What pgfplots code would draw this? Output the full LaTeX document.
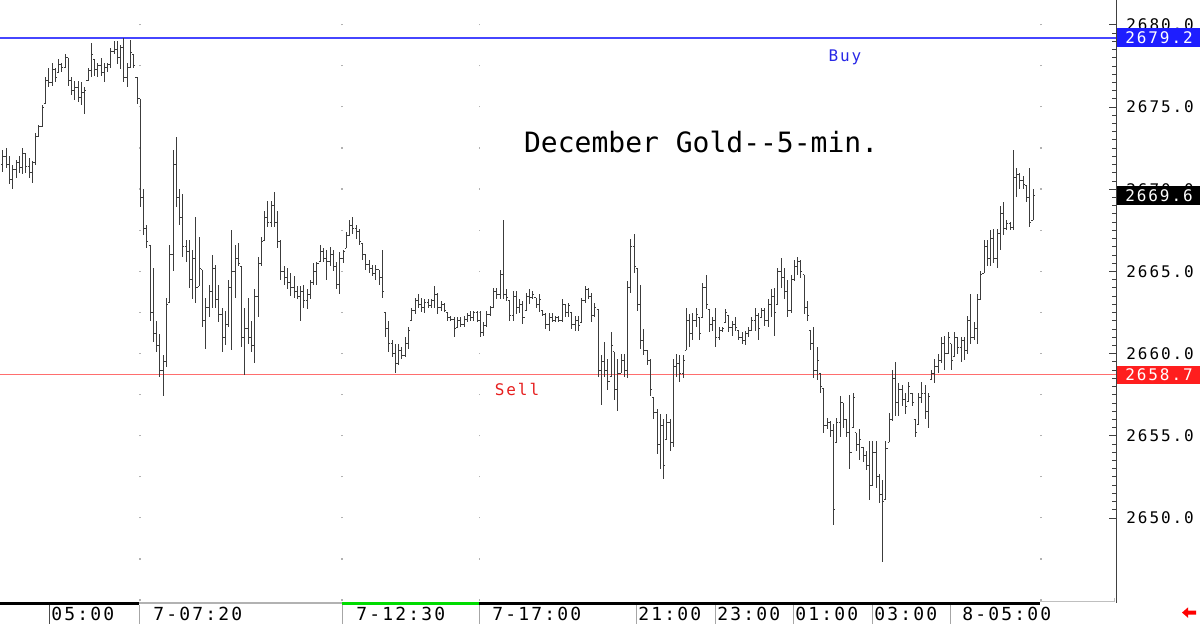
\documentclass[border=0pt]{standalone}
\usepackage{fontspec}
\setmainfont{DejaVu Sans Mono}
\newfontfamily\monofont{DejaVu Sans Mono}
\newfontfamily\tickfont[LetterSpace=12]{DejaVu Sans Mono}
\usepackage{pgfplots}
\pgfplotsset{compat=1.18}
\usepackage{pgfplotstable}

\definecolor{buyblue}{RGB}{70,70,255}
\definecolor{boxblue}{RGB}{30,30,255}
\definecolor{sellred}{RGB}{255,110,110}
\definecolor{boxred}{RGB}{255,30,30}
\definecolor{greenbar}{RGB}{0,220,0}
\definecolor{barcol}{RGB}{60,60,60}

\pgfdeclareplotmark{otick}{\pgfpathmoveto{\pgfpoint{-0.8pt}{0pt}}\pgfpathlineto{\pgfpoint{0pt}{0pt}}\pgfusepathqstroke}
\pgfdeclareplotmark{ctick}{\pgfpathmoveto{\pgfpoint{0pt}{0pt}}\pgfpathlineto{\pgfpoint{0.8pt}{0pt}}\pgfusepathqstroke}

\pgfplotstableread{
o h l c
2671.5 2672.4 2671.05 2672.0
2672.0 2672.5 2671.3 2671.5
2671.5 2672.0 2670.3 2670.6
2670.6 2671.5 2670.0 2671.2
2671.2 2671.8 2670.7 2671.6
2671.6 2672.0 2671.0 2671.3
2671.3 2672.5 2670.9 2672.2
2672.2 2672.2 2671.0 2671.4
2671.4 2671.9 2670.7 2671.0
2671.0 2671.7 2670.4 2671.6
2671.6 2673.4 2671.5 2673.2
2673.2 2673.9 2673.2 2673.8
2673.8 2675.1 2673.8 2675.0
2675.2 2676.8 2675.2 2676.6
2676.6 2677.4 2676.2 2676.5
2676.5 2677.7 2676.3 2677.3
2677.3 2677.4 2676.5 2676.8
2677.1 2677.9 2677.1 2677.6
2677.6 2677.7 2677.1 2677.4
2677.4 2678.2 2677.4 2678.0
2678.0 2678.0 2676.3 2676.6
2676.6 2676.8 2675.7 2676.0
2676.0 2676.6 2675.4 2676.2
2676.2 2676.6 2675.3 2675.6
2675.6 2676.5 2675.1 2675.9
2675.9 2676.2 2674.6 2676.0
2676.6 2677.4 2676.6 2677.2
2677.2 2678.9 2676.8 2678.2
2677.9 2677.9 2676.9 2677.3
2677.3 2677.7 2676.8 2677.5
2677.5 2678.0 2676.9 2677.1
2677.1 2677.7 2676.5 2677.4
2677.4 2677.7 2677.1 2677.6
2677.6 2678.6 2677.4 2678.4
2678.4 2679.0 2678.2 2678.5
2678.5 2679.0 2677.6 2678.0
2678.0 2678.8 2677.3 2678.6
2678.6 2679.2 2676.5 2676.8
2676.8 2677.7 2676.2 2677.4
2677.4 2679.1 2677.4 2678.3
2678.2 2678.2 2677.4 2677.5
2676.8 2676.8 2675.2 2675.5
2675.5 2675.5 2668.9 2669.5
2669.5 2670.0 2667.2 2667.6
2667.6 2667.8 2666.4 2666.8
2666.6 2666.6 2662.0 2662.5
2662.5 2665.2 2660.7 2661.2
2661.2 2662.0 2660.1 2660.5
2660.5 2661.2 2658.6 2659.0
2659.0 2659.9 2657.4 2659.5
2659.5 2663.4 2659.2 2663.0
2663.1 2666.6 2663.1 2666.0
2666.0 2672.4 2665.0 2671.5
2671.5 2673.2 2668.9 2669.5
2669.5 2670.0 2667.8 2668.3
2668.3 2669.7 2665.9 2666.5
2666.5 2666.9 2665.6 2666.2
2666.2 2666.9 2664.0 2664.5
2664.5 2666.3 2663.3 2665.8
2665.8 2668.3 2663.1 2664.0
2664.1 2667.1 2664.1 2665.2
2665.1 2665.1 2661.6 2662.0
2662.0 2663.4 2660.3 2662.8
2662.8 2664.2 2662.2 2663.8
2663.8 2666.0 2662.8 2665.2
2665.2 2665.4 2662.8 2663.3
2663.3 2664.2 2661.9 2662.4
2662.4 2662.8 2660.1 2661.0
2661.0 2662.6 2660.5 2661.8
2661.8 2664.5 2661.6 2664.0
2664.0 2667.5 2660.2 2665.0
2665.0 2666.6 2663.4 2665.8
2665.8 2666.7 2665.3 2665.5
2665.3 2665.3 2660.4 2661.0
2661.0 2662.8 2658.7 2661.5
2661.5 2663.4 2660.6 2661.0
2661.0 2662.0 2660.1 2660.5
2660.5 2663.9 2659.4 2663.5
2663.5 2665.9 2662.2 2665.5
2665.5 2667.1 2665.3 2666.8
2666.9 2668.7 2666.9 2668.3
2668.3 2669.3 2667.7 2668.0
2668.0 2669.3 2667.7 2669.0
2669.0 2669.8 2667.7 2668.0
2668.0 2668.7 2666.4 2666.8
2666.8 2666.9 2664.5 2665.0
2665.0 2665.3 2664.2 2664.6
2664.6 2665.2 2663.9 2664.3
2664.3 2664.9 2663.5 2664.0
2664.0 2664.7 2663.4 2663.8
2663.8 2664.1 2663.3 2663.5
2663.5 2664.1 2662.0 2663.8
2663.8 2664.2 2662.8 2663.2
2663.2 2663.9 2662.7 2663.6
2663.6 2664.5 2663.3 2664.3
2664.3 2665.5 2664.2 2665.0
2665.0 2665.6 2664.2 2665.5
2665.6 2666.6 2665.6 2666.2
2666.2 2666.4 2665.6 2665.8
2665.8 2666.3 2664.5 2665.6
2665.6 2666.5 2665.3 2666.0
2666.0 2666.3 2665.0 2665.3
2665.3 2665.6 2663.9 2664.2
2664.2 2666.2 2663.6 2665.8
2665.8 2666.3 2665.5 2666.2
2666.4 2667.4 2666.4 2667.2
2667.2 2668.1 2667.2 2667.8
2667.8 2668.3 2667.3 2667.6
2667.6 2667.8 2667.0 2667.4
2667.4 2667.6 2666.6 2666.8
2666.7 2666.7 2665.7 2666.0
2666.0 2666.0 2665.1 2665.4
2665.4 2665.7 2664.9 2665.2
2665.2 2665.4 2664.7 2664.9
2664.9 2665.4 2664.5 2665.1
2665.1 2665.1 2664.2 2664.6
2664.6 2666.3 2663.4 2663.8
2662.5 2662.5 2661.0 2661.5
2661.5 2662.0 2660.1 2660.6
2660.6 2660.8 2659.8 2660.0
2660.0 2660.6 2658.8 2659.4
2659.4 2660.6 2659.3 2660.2
2660.2 2660.4 2659.7 2659.9
2659.9 2661.0 2659.8 2660.6
2660.6 2661.6 2660.3 2661.4
2662.0 2662.8 2662.0 2662.6
2662.6 2663.4 2662.4 2663.2
2663.2 2663.6 2662.8 2663.0
2663.0 2663.4 2662.5 2662.8
2662.8 2663.3 2662.5 2663.1
2663.1 2663.3 2662.8 2662.9
2662.9 2663.3 2662.8 2663.2
2663.2 2664.1 2662.8 2663.6
2663.6 2663.7 2662.4 2662.8
2662.8 2663.2 2662.6 2663.0
2663.0 2663.1 2662.5 2662.6
2662.5 2662.5 2662.0 2662.2
2662.2 2662.3 2662.0 2662.1
2662.1 2662.2 2661.0 2661.5
2661.6 2662.2 2661.6 2662.0
2662.0 2662.2 2661.6 2661.8
2661.8 2662.3 2661.6 2662.1
2662.1 2662.5 2661.9 2662.3
2662.3 2662.6 2662.0 2662.2
2662.2 2662.6 2662.0 2662.5
2662.5 2662.6 2661.9 2662.0
2662.0 2662.6 2661.0 2661.3
2661.3 2661.9 2661.1 2661.7
2661.7 2662.6 2661.6 2662.4
2662.4 2662.9 2662.3 2662.8
2662.8 2664.0 2662.8 2663.8
2663.8 2664.0 2663.3 2663.6
2663.6 2665.1 2663.3 2664.8
2664.8 2668.1 2663.3 2663.6
2663.6 2663.9 2663.2 2663.4
2663.2 2663.2 2662.0 2662.3
2662.3 2663.8 2662.0 2663.5
2663.5 2663.8 2662.4 2662.8
2662.8 2663.3 2662.5 2663.0
2663.0 2663.2 2661.8 2662.2
2662.6 2663.7 2662.6 2663.5
2663.5 2663.9 2663.0 2663.4
2663.4 2663.8 2663.3 2663.6
2663.4 2663.4 2662.8 2663.0
2663.0 2663.6 2662.5 2663.3
2662.6 2662.6 2662.3 2662.4
2662.4 2662.5 2661.5 2661.8
2661.8 2662.5 2661.4 2662.2
2662.2 2662.5 2661.9 2662.0
2662.0 2662.3 2661.9 2662.2
2662.2 2662.3 2661.9 2662.0
2662.0 2663.3 2661.9 2663.0
2663.0 2663.0 2662.2 2662.5
2662.5 2663.1 2662.2 2662.9
2662.5 2662.5 2661.5 2661.8
2661.8 2662.3 2661.4 2662.0
2662.0 2662.3 2661.4 2661.7
2661.9 2663.4 2661.9 2663.2
2663.2 2664.1 2663.1 2663.9
2663.9 2664.0 2663.3 2663.5
2663.5 2663.7 2661.9 2662.3
2662.3 2663.1 2662.2 2662.8
2662.7 2662.7 2658.6 2659.0
2659.0 2659.9 2656.9 2659.5
2659.5 2660.7 2658.6 2659.0
2659.0 2659.7 2657.8 2658.3
2658.6 2661.3 2658.6 2660.5
2660.1 2660.1 2657.2 2657.8
2657.8 2659.7 2656.5 2658.8
2658.8 2660.0 2658.8 2659.6
2659.6 2660.0 2658.6 2659.0
2659.0 2664.4 2658.5 2664.0
2664.0 2667.0 2663.7 2666.5
2666.5 2667.3 2664.9 2665.3
2665.2 2665.2 2662.6 2663.0
2663.0 2664.2 2660.3 2660.8
2660.8 2661.5 2659.9 2660.2
2660.2 2660.2 2659.3 2659.6
2659.6 2659.7 2657.4 2657.8
2657.3 2657.3 2656.0 2656.4
2656.4 2656.6 2653.9 2654.5
2654.5 2656.3 2653.0 2655.6
2655.6 2656.0 2652.4 2653.2
2654.8 2656.3 2654.8 2655.8
2655.8 2656.0 2654.1 2654.6
2654.6 2659.7 2654.3 2659.2
2659.2 2660.0 2658.6 2659.4
2659.4 2659.9 2658.3 2658.8
2658.8 2659.9 2658.5 2659.6
2660.2 2662.8 2660.2 2662.0
2662.0 2662.4 2660.4 2661.2
2661.2 2662.5 2660.8 2662.0
2662.0 2662.8 2661.6 2662.4
2662.2 2662.2 2660.8 2661.2
2662.2 2664.3 2662.2 2664.0
2664.0 2664.8 2662.7 2663.0
2662.7 2662.7 2661.3 2661.8
2661.8 2662.2 2661.4 2662.0
2662.0 2662.8 2660.4 2661.0
2661.0 2661.6 2660.8 2661.4
2661.4 2661.6 2661.3 2661.5
2661.9 2662.7 2661.9 2662.5
2662.3 2662.3 2661.3 2661.6
2661.6 2662.0 2661.1 2661.8
2661.8 2662.2 2661.4 2661.6
2661.4 2661.4 2660.8 2661.0
2661.0 2661.3 2660.6 2660.8
2660.8 2661.4 2660.5 2661.2
2661.2 2661.6 2661.0 2661.4
2661.4 2662.2 2661.4 2662.0
2662.0 2662.8 2661.4 2662.3
2662.3 2662.5 2660.8 2661.5
2662.2 2662.8 2662.2 2662.6
2662.6 2662.8 2661.7 2662.0
2662.0 2663.3 2661.6 2663.0
2663.0 2663.9 2662.2 2663.5
2663.5 2664.0 2661.1 2662.5
2663.0 2665.2 2663.0 2665.0
2665.0 2665.8 2664.0 2664.6
2664.6 2665.2 2663.3 2663.8
2663.8 2664.5 2662.2 2662.6
2662.6 2664.8 2662.5 2664.5
2664.5 2665.7 2664.4 2665.3
2665.3 2665.9 2664.8 2665.6
2665.6 2665.7 2664.6 2665.0
2664.8 2664.8 2662.4 2662.8
2662.8 2663.2 2662.0 2662.3
2661.4 2661.4 2660.2 2660.6
2660.6 2661.6 2658.5 2659.0
2659.0 2660.4 2658.4 2659.6
2658.8 2658.8 2657.6 2658.0
2657.9 2657.9 2655.2 2655.6
2655.6 2656.1 2655.4 2655.8
2655.8 2655.9 2654.9 2655.3
2655.3 2655.7 2649.6 2650.5
2654.6 2656.1 2654.6 2655.8
2655.8 2657.4 2654.9 2657.0
2657.0 2657.0 2655.5 2656.0
2656.0 2656.0 2654.9 2655.2
2655.2 2657.5 2653.0 2654.0
2655.5 2657.6 2655.5 2657.3
2655.2 2655.2 2654.1 2654.5
2654.5 2655.4 2653.5 2654.8
2654.3 2654.3 2653.4 2653.8
2653.8 2654.1 2652.9 2653.2
2653.2 2654.7 2651.1 2652.0
2652.0 2654.7 2652.0 2654.0
2654.0 2654.7 2651.8 2652.5
2652.5 2652.7 2650.9 2651.4
2651.4 2652.3 2647.3 2651.0
2651.1 2654.7 2651.1 2654.2
2654.6 2656.4 2654.6 2656.0
2656.0 2659.0 2655.9 2658.5
2658.5 2659.5 2656.2 2657.0
2657.0 2658.2 2656.2 2657.8
2657.8 2658.1 2656.8 2657.2
2657.2 2657.6 2656.3 2656.8
2657.1 2658.3 2657.1 2658.0
2657.6 2657.6 2656.8 2657.0
2656.0 2656.0 2654.9 2655.2
2655.7 2657.6 2655.7 2657.3
2657.3 2658.3 2657.0 2657.6
2657.6 2658.1 2656.0 2656.5
2656.5 2657.6 2655.5 2657.4
2658.4 2659.0 2658.4 2658.8
2658.8 2659.7 2658.2 2659.2
2659.2 2660.0 2658.8 2659.6
2659.6 2661.0 2659.4 2660.6
2660.6 2661.1 2659.0 2660.0
2660.0 2661.3 2660.0 2661.0
2660.6 2660.6 2659.0 2659.6
2659.8 2661.3 2659.8 2661.0
2661.0 2661.0 2660.0 2660.4
2660.4 2661.0 2659.5 2660.8
2660.8 2661.0 2659.6 2660.2
2660.2 2662.3 2660.0 2662.0
2662.0 2663.6 2660.6 2661.0
2661.0 2661.9 2660.8 2661.5
2661.5 2663.6 2660.6 2663.3
2663.3 2665.0 2663.3 2664.8
2664.9 2666.9 2664.9 2666.5
2666.5 2666.9 2665.3 2665.8
2665.8 2667.5 2665.3 2667.0
2667.0 2667.6 2665.5 2665.8
2665.8 2667.6 2665.2 2667.3
2667.3 2669.0 2666.3 2668.5
2668.5 2669.2 2667.2 2667.6
2667.6 2668.1 2667.5 2667.9
2667.9 2668.0 2667.5 2667.7
2667.7 2672.4 2667.5 2670.7
2670.7 2671.3 2669.5 2670.9
2670.9 2671.0 2670.0 2670.5
2670.5 2670.8 2670.0 2670.3
2670.2 2670.2 2669.2 2669.5
2669.5 2671.3 2667.7 2668.0
2668.1 2670.0 2668.1 2669.6
}\bars

\newcommand{\tf}{\tickfont\fontsize{8pt}{9pt}\selectfont}
\newcommand{\blf}{\tickfont\fontsize{9pt}{10pt}\selectfont}

\begin{document}
\begin{tikzpicture}
\begin{axis}[
  at={(0,0)}, anchor=south west,
  scale only axis, width=558pt, height=301.5pt,
  xmin=-0.917, xmax=340.37, ymin=2644.83, ymax=2681.51,
  axis x line=none,
  axis y line*=right,
  y axis line style={black!75, line width=0.5pt},
  ytick={2650,2655,2660,2665,2670,2675,2680},
  yticklabels={2650.0,2655.0,2660.0,2665.0,2670.0,2675.0,2680.0},
  minor y tick num=9,
  tick align=inside,
  major tick length=3.5pt,
  minor tick length=2.2pt,
  ytick style={black!75, line width=0.4pt},
  yticklabel style={anchor=west, inner sep=0pt, xshift=5pt, font=\tf, text=black},
  clip=false,
]
% dotted grid columns
\foreach \gx in {41.9,103.67,145.72,317.4}{
  \edef\tmp{\noexpand\draw[gray!60, line width=0.6pt, dash pattern=on 0.6pt off 19.95pt, dash phase=19.4pt] (axis cs:\gx,2644.83) -- (axis cs:\gx,2681.51);}
  \tmp
}
% Buy / Sell lines
\addplot[draw=buyblue, line width=0.6pt, mark=none] coordinates {(-0.917,2679.2) (340.37,2679.2)};
\addplot[draw=sellred, line width=0.5pt, mark=none] coordinates {(-0.917,2658.7) (340.37,2658.7)};
% OHLC bars: open tick with high-low range as error bar
\addplot[barcol, only marks, mark=otick, mark options={line width=0.5pt},
  error bars/.cd, y dir=both, y explicit, error mark=none,
  error bar style={barcol, line width=0.5pt}]
  table[x expr=\coordindex, y=o, y error plus expr=\thisrow{h}-\thisrow{o}, y error minus expr=\thisrow{o}-\thisrow{l}] {\bars};
\addplot[barcol, only marks, mark=ctick, mark options={line width=0.5pt}]
  table[x expr=\coordindex, y=c] {\bars};
% texts
\node[font=\monofont\fontsize{14pt}{16pt}\selectfont, text=black] at (axis cs:213.5,2672.87) {December Gold--5-min.};
\node[font=\tf, text={rgb,255:red,40;green,40;blue,230}] at (axis cs:257.5,2678.04) {Buy};
\node[font=\tf, text={rgb,255:red,230;green,30;blue,30}] at (axis cs:157.2,2657.79) {Sell};
\coordinate (buyR) at (axis cs:340.37,2679.2);
\coordinate (sellR) at (axis cs:340.37,2658.7);
\coordinate (lastR) at (axis cs:340.37,2669.6);
\end{axis}
% right value boxes
\node[anchor=west, fill=boxblue, text=white, font=\tf, minimum width=42pt, minimum height=9.5pt, inner sep=0pt] at ([xshift=0.3pt]buyR) {2679.2};
\node[anchor=west, fill=boxred, text=white, font=\tf, minimum width=42pt, minimum height=9pt, inner sep=0pt] at ([xshift=0.3pt]sellR) {2658.7};
\node[anchor=west, fill=black, text=white, font=\tf, minimum width=42pt, minimum height=9.5pt, inner sep=0pt] at ([xshift=0.3pt]lastR) {2669.6};
% bottom bar
\draw[black, line width=1.5pt] (0,-0.25pt) -- (69.5pt,-0.25pt);
\draw[gray!60, line width=1pt] (69.5pt,-0.25pt) -- (171pt,-0.25pt);
\draw[greenbar, line width=1.5pt] (171pt,-0.25pt) -- (239.5pt,-0.25pt);
\draw[black, line width=1.5pt] (239.5pt,-0.25pt) -- (520pt,-0.25pt);
\draw[gray!50, line width=0.5pt] (520pt,0.65pt) -- (557pt,0.65pt) -- (557pt,2.5pt);
% separators
\draw[black!70, line width=0.5pt] (24.5pt,-1pt) -- (24.5pt,-10.5pt);
\foreach \sx in {69.5,171,239.75,318,357.5,396.5,436,475}{
  \draw[gray!70, line width=0.5pt] (\sx pt,-1pt) -- (\sx pt,-10.5pt);
}
% time labels
\foreach \lx/\lt in {25.5/05:00, 76.5/7-07:20, 178/7-12:30, 246/7-17:00, 319/21:00, 358.5/23:00, 397.5/01:00, 437/03:00, 481/8-05:00}{
  \node[anchor=west, inner sep=0pt, font=\blf] at (\lx pt,-5.6pt) {\lt};
}
% red arrow
\fill[red] (591pt,-4.8pt) -- (594pt,-2.2pt) -- (594pt,-3.8pt) -- (598pt,-3.8pt) -- (598pt,-5.8pt) -- (594pt,-5.8pt) -- (594pt,-7.4pt) -- cycle;
\pgfresetboundingbox
\path (0,-10.5pt) rectangle (600pt,301.5pt);
\end{tikzpicture}
\end{document}
